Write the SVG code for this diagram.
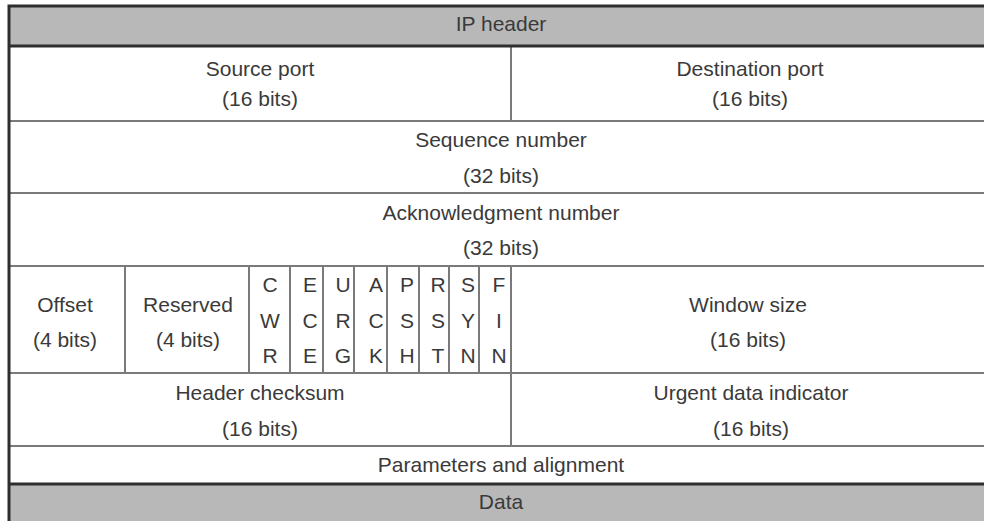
<svg xmlns="http://www.w3.org/2000/svg" width="984" height="521" viewBox="0 0 984 521">
  <style>
    .band { fill: #b8b8b8; }
    .cell { fill: #ffffff; }
    .t { font-family: "Liberation Sans", Arial, sans-serif; font-size: 21px; fill: #3a3a3a; text-anchor: middle; }
    .thin { stroke: #7a7a7a; stroke-width: 2; fill: none; }
    .thick { stroke: #2e2e2e; stroke-width: 3; fill: none; }
  </style>

  <!-- background -->
  <rect x="0" y="0" width="984" height="521" fill="#ffffff"/>

  <!-- shaded bands -->
  <g id="ip-header">
    <rect class="band" x="9" y="6" width="975" height="40"/>
    <text class="t" x="501" y="31">IP header</text>
  </g>
  <g id="data">
    <rect class="band" x="9" y="484" width="975" height="37"/>
    <text class="t" x="501" y="509">Data</text>
  </g>

  <!-- TCP header fields -->
  <g id="source-port">
    <text class="t" x="260" y="76">Source port</text>
    <text class="t" x="260" y="106">(16 bits)</text>
  </g>
  <g id="destination-port">
    <text class="t" x="750" y="76">Destination port</text>
    <text class="t" x="750" y="106">(16 bits)</text>
  </g>
  <g id="sequence-number">
    <text class="t" x="501" y="147">Sequence number</text>
    <text class="t" x="501" y="183">(32 bits)</text>
  </g>
  <g id="acknowledgment-number">
    <text class="t" x="501" y="220">Acknowledgment number</text>
    <text class="t" x="501" y="255">(32 bits)</text>
  </g>
  <g id="offset">
    <text class="t" x="65" y="312">Offset</text>
    <text class="t" x="65" y="347">(4 bits)</text>
  </g>
  <g id="reserved">
    <text class="t" x="188" y="312">Reserved</text>
    <text class="t" x="188" y="347">(4 bits)</text>
  </g>
  <g id="flag-cwr">
    <text class="t" x="270" y="292">C</text>
    <text class="t" x="270" y="328">W</text>
    <text class="t" x="270" y="363">R</text>
  </g>
  <g id="flag-ece">
    <text class="t" x="310" y="292">E</text>
    <text class="t" x="310" y="328">C</text>
    <text class="t" x="310" y="363">E</text>
  </g>
  <g id="flag-urg">
    <text class="t" x="343" y="292">U</text>
    <text class="t" x="343" y="328">R</text>
    <text class="t" x="343" y="363">G</text>
  </g>
  <g id="flag-ack">
    <text class="t" x="376" y="292">A</text>
    <text class="t" x="376" y="328">C</text>
    <text class="t" x="376" y="363">K</text>
  </g>
  <g id="flag-psh">
    <text class="t" x="407" y="292">P</text>
    <text class="t" x="407" y="328">S</text>
    <text class="t" x="407" y="363">H</text>
  </g>
  <g id="flag-rst">
    <text class="t" x="438" y="292">R</text>
    <text class="t" x="438" y="328">S</text>
    <text class="t" x="438" y="363">T</text>
  </g>
  <g id="flag-syn">
    <text class="t" x="468" y="292">S</text>
    <text class="t" x="468" y="328">Y</text>
    <text class="t" x="468" y="363">N</text>
  </g>
  <g id="flag-fin">
    <text class="t" x="499" y="292">F</text>
    <text class="t" x="499" y="328">I</text>
    <text class="t" x="499" y="363">N</text>
  </g>
  <g id="window-size">
    <text class="t" x="748" y="312">Window size</text>
    <text class="t" x="748" y="347">(16 bits)</text>
  </g>
  <g id="header-checksum">
    <text class="t" x="260" y="400">Header checksum</text>
    <text class="t" x="260" y="436">(16 bits)</text>
  </g>
  <g id="urgent-data-indicator">
    <text class="t" x="751" y="400">Urgent data indicator</text>
    <text class="t" x="751" y="436">(16 bits)</text>
  </g>
  <g id="parameters">
    <text class="t" x="501" y="472">Parameters and alignment</text>
  </g>

  <!-- grid lines separating the fields -->
  <g id="connectors">
    <!-- row separators -->
    <path class="thin" d="M9 121H984 M9 193H984 M9 266H984 M9 373H984 M9 446H984"/>
    <!-- column separators -->
    <path class="thin" d="M511 46V121 M125 266V373 M249 266V373 M290 266V373 M323 266V373 M354 266V373 M387 266V373 M419 266V373 M449 266V373 M479 266V373 M511 266V446"/>
    <!-- heavy outline -->
    <path class="thick" d="M984 6H9V521 M9 46H984 M9 484H984"/>
  </g>
</svg>
